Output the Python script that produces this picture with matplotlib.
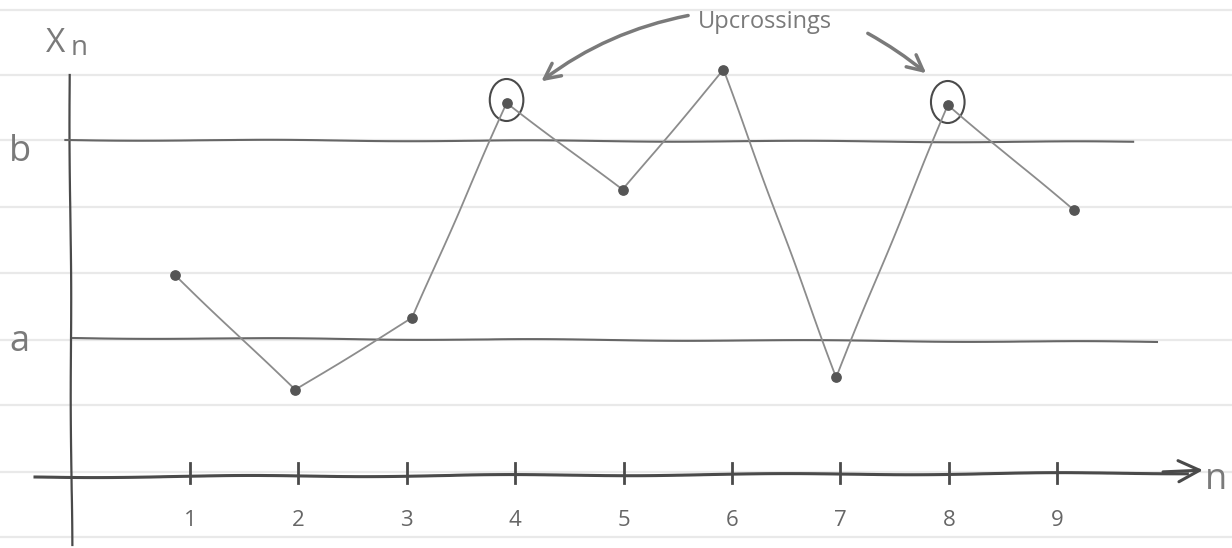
import matplotlib
matplotlib.use("Agg")
import matplotlib.pyplot as plt
from matplotlib.patches import Ellipse, FancyArrowPatch

# step index of each drawn point (as placed on the sketch) and its value X_n
n_pos = [0.86, 1.97, 3.05, 3.92, 4.99, 5.92, 6.96, 7.99, 9.15]
x_vals = [2.00, 0.85, 1.57, 3.72, 2.85, 4.05, 0.98, 3.70, 2.65]
tick_labels = ["1", "2", "3", "4", "5", "6", "7", "8", "9"]
level_a = 1.37
level_b = 3.35
upcross_idx = [3, 7]

pen = "#4a4a4a"
pencil = "#8c8c8c"
paper = "#e9e9e9"

fig = plt.figure(figsize=(12.32, 5.48), dpi=100)
ax = fig.add_axes([0, 0, 1, 1])
ax.set_xlim(-0.753, 10.612)
ax.set_ylim(-0.73, 4.75)
ax.axis("off")

# notebook paper rules
for y in [4.65, 4.00, 3.35, 2.68, 2.02, 1.35, 0.70, 0.03, -0.62]:
    ax.axhline(y, color=paper, lw=1.6, zorder=0)

# axes of the sketch
ln, = ax.plot([-0.43, 10.2], [-0.02, 0.02], color=pen, lw=2.2)
ln.set_sketch_params(0.8, 300, 2)
ln, = ax.plot([-0.11, -0.09], [4.0, -0.70], color=pen, lw=1.6)
ln.set_sketch_params(0.5, 300, 2)
ax.annotate("", xy=(10.37, 0.05), xytext=(9.95, 0.03),
            arrowprops=dict(arrowstyle="->", color=pen, lw=2.2,
                            mutation_scale=38))
for i in range(len(tick_labels)):
    ax.plot([i + 1, i + 1], [-0.08, 0.12], color=pen, lw=2)
    ax.text(i + 1, -0.45, tick_labels[i], ha="center", va="center",
            fontsize=16, color="#666666", family="Open Sans")

# levels a and b
ln, = ax.plot([-0.15, 9.7], [level_b, level_b - 0.02], color="#666666", lw=1.5)
ln.set_sketch_params(0.6, 300, 2)
ln, = ax.plot([-0.08, 9.92], [level_a, level_a - 0.04], color="#666666", lw=1.5)
ln.set_sketch_params(0.6, 300, 2)

ax.text(-0.57, level_b - 0.12, "b", fontsize=26, color="#7a7a7a",
        family="Open Sans", ha="center", va="center")
ax.text(-0.57, level_a - 0.04, "a", fontsize=26, color="#7a7a7a",
        family="Open Sans", ha="center", va="center")
ax.text(-0.24, 4.32, "X", fontsize=24, color="#7a7a7a",
        family="Open Sans", ha="center", va="center")
ax.text(-0.02, 4.27, "n", fontsize=20, color="#7a7a7a",
        family="Open Sans", ha="center", va="center")
ax.text(10.46, -0.05, "n", fontsize=26, color="#7a7a7a",
        family="Open Sans", ha="center", va="center")

# the path X_n
ln, = ax.plot(n_pos, x_vals, color=pencil, lw=1.3)
ln.set_sketch_params(0.4, 200, 2)
ax.scatter(n_pos, x_vals, s=45, color="#555555", zorder=3)

# circled upcrossings
for i in upcross_idx:
    ax.add_patch(Ellipse((n_pos[i], x_vals[i] + 0.03), 0.31, 0.42, fill=False,
                         ec=pen, lw=1.5))

ax.text(6.30, 4.53, "Upcrossings", fontsize=17, color="#7a7a7a",
        family="Open Sans", ha="center", va="center")
ax.add_patch(FancyArrowPatch((5.62, 4.60), (4.22, 3.92),
                             connectionstyle="arc3,rad=0.12",
                             arrowstyle="->", mutation_scale=28,
                             color="#7a7a7a", lw=2.5))
ax.add_patch(FancyArrowPatch((7.23, 4.43), (7.81, 4.00),
                             connectionstyle="arc3,rad=-0.05",
                             arrowstyle="->", mutation_scale=28,
                             color="#7a7a7a", lw=2.5))

fig.savefig("out.png", dpi=100, facecolor="white")
